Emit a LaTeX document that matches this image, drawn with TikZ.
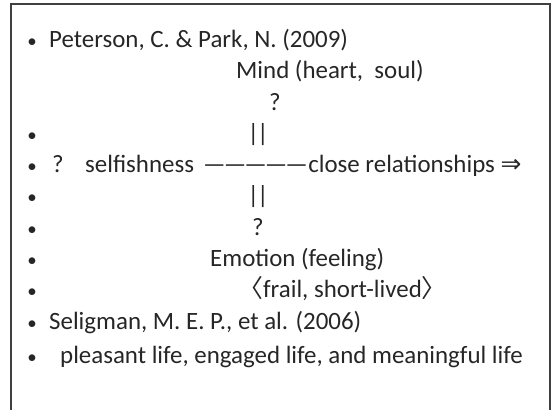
\documentclass[tikz,border=0pt]{standalone}
\usepackage{fontspec}
\setmainfont{Carlito}
\newfontfamily\cjk{Noto Sans CJK JP}
\newfontfamily\dejavu{DejaVu Sans}
\usetikzlibrary{positioning}
\tikzset{
  txt/.style={anchor=base west, inner sep=0pt, text=black!85, font=\fontsize{25}{30}\selectfont},
  mid/.style={anchor=base, inner sep=0pt, text=black!85, font=\fontsize{25}{30}\selectfont},
  dot/.style={anchor=base, inner sep=0pt, text=black!85, font=\fontsize{19}{22}\selectfont},
}
\newcommand{\dsh}{—\kern-2bp}
\begin{document}
\begin{tikzpicture}[x=1bp,y=-1bp]
\useasboundingbox (0,0) rectangle (552,409);
%%%FRAME
\draw[line width=1.5bp, black!75] (11,412) -- (11,4) -- (550,4) -- (550,412);
%%%BULLETS
\foreach \y/\n in {47/1,141/2,172/3,203/4,235/5,266/6,297/7,329/8,363/9}
  \node[dot] (dot\n) at (32,\y) {•};
%%%TOP : MIND
\node[txt] (peterson) at (49,47) {Peterson, C. \& Park, N. (2009)};
\node[txt] (mind) at (236,78) {Mind (heart,\ \ soul)};
\node[mid] (qtop) at (275,110) {?};
\node[mid] (bartop) at (258,141) {|\kern-2bp|};
%%%MIDDLE LINE
\node[txt] (qleft) at (52,172) {?};
\node[txt] (self) at (85,172) {selfishness};
\node[txt] (dashes) at (203,172) {\dsh\dsh\dsh\dsh—};
\node[txt] (close) at (dashes.base east) {close relationships {\dejavu ⇒}};
%%%BOTTOM : EMOTION
\node[mid] (barbot) at (258,203) {|\kern-2bp|};
\node[mid] (qbot) at (258,235) {?};
\node[txt] (emotion) at (210,266) {Emotion (feeling)};
\node[txt] (frail) at (238,297) {{\cjk 〈}frail, short-lived{\cjk 〉}};
%%%SELIGMAN
\node[txt] (seligman) at (49,329) {Seligman, M. E. P., et al. (2006)};
\node[txt] (lives) at (60,363) {pleasant life, engaged life, and meaningful life};
\end{tikzpicture}
\end{document}
